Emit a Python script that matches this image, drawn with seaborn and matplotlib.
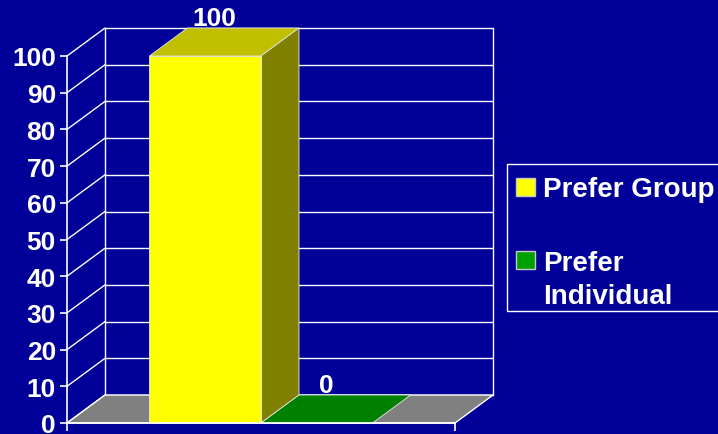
import matplotlib
matplotlib.use("Agg")
import matplotlib.pyplot as plt
import seaborn as sns
import pandas as pd
from matplotlib.patches import Polygon, Rectangle

# ---- data ----
categories = ["Preference"]
series = ["Prefer Group", "Prefer Individual"]
legend_lines = [["Prefer Group"], ["Prefer", "Individual"]]
values = [100, 0]
value_labels = ["100", "0"]
yticks = [0, 10, 20, 30, 40, 50, 60, 70, 80, 90, 100]

# ---- style ----
BG = "#000099"
front_colors = ["#FFFF00", "#00A000"]
top_colors = ["#C0C000", "#008000"]
side_colors = ["#808000", "#005000"]
legend_colors = ["#FFFF00", "#00A000"]
FLOOR = "#808080"
FS = 19
LFS = 20

sns.set_theme(style="white")
plt.rcParams['font.family'] = ['Liberation Sans', 'DejaVu Sans']
plt.rcParams['font.weight'] = 'bold'

W, H = 718, 435
fig = plt.figure(figsize=(W / 100, H / 100), dpi=100, facecolor=BG)
ax = fig.add_axes([67 / W, 11 / H, 388 / W, 367 / H])
ax.set_facecolor("none")

df = pd.DataFrame({"cat": categories * len(series), "series": series, "value": values})
sns.barplot(data=df, x="cat", y="value", hue="series", hue_order=series,
            palette=front_colors, width=0.575, gap=0, saturation=1,
            edgecolor="#E8E8E8", linewidth=0.6, legend=False, ax=ax, zorder=3)

ax.set_xlim(-0.5, 0.5)
ax.set_ylim(0, 100)

# depth offsets (data units)
dx = 38 / 388
dy = 28 / 367 * 100

line_kw = dict(color="white", lw=1.0, clip_on=False, zorder=0.5)
# back wall + left wall grid
for v in yticks:
    ax.plot([-0.5 + dx, 0.5 + dx], [v + dy, v + dy], **line_kw)
    ax.plot([-0.5, -0.5 + dx], [v, v + dy], **line_kw)
ax.plot([-0.5 + dx, -0.5 + dx], [dy, 100 + dy], **line_kw)
ax.plot([0.5 + dx, 0.5 + dx], [dy, 100 + dy], **line_kw)

# floor
floor = Polygon([(-0.5, 0), (0.5, 0), (0.5 + dx, dy), (-0.5 + dx, dy)],
                closed=True, facecolor=FLOOR, edgecolor="white", lw=1.0,
                clip_on=False, zorder=0.8)
ax.add_patch(floor)

# 3D faces for bars, based on seaborn's bar rectangles
bars = [p for p in ax.patches if p is not floor]
bars = sorted(bars, key=lambda p: p.get_x())
for i, b in enumerate(bars):
    x0 = b.get_x()
    x1 = x0 + b.get_width()
    h = b.get_height()
    top = Polygon([(x0, h), (x1, h), (x1 + dx, h + dy), (x0 + dx, h + dy)],
                  closed=True, facecolor=top_colors[i], edgecolor="#E8E8E8",
                  lw=0.6, clip_on=False, zorder=2.5)
    ax.add_patch(top)
    if h > 0:
        side = Polygon([(x1, 0), (x1 + dx, dy), (x1 + dx, h + dy), (x1, h)],
                       closed=True, facecolor=side_colors[i], edgecolor="#E8E8E8",
                       lw=0.6, clip_on=False, zorder=2.5)
        ax.add_patch(side)
    ax.annotate(value_labels[i], xy=(x0 + b.get_width() / 2 + dx / 4, h + dy),
                xytext=(0, 7), textcoords="offset points", ha="center", va="center",
                color="white", fontsize=FS, fontweight="bold", annotation_clip=False,
                zorder=4)

# axes styling
for s in ["top", "right"]:
    ax.spines[s].set_visible(False)
for s in ["left", "bottom"]:
    ax.spines[s].set_color("white")
    ax.spines[s].set_linewidth(1.2)
    ax.spines[s].set_zorder(4)
ax.set_yticks(yticks)
ax.set_yticklabels([str(v) for v in yticks])
ax.set_xticks([-0.5, 0.5])
ax.set_xticklabels(["", ""])
ax.set_xlabel("")
ax.set_ylabel("")
ax.tick_params(axis="y", colors="white", length=5, width=1.2, pad=3, labelsize=FS, left=True)
ax.tick_params(axis="x", colors="white", length=6, width=1.2, bottom=True)
for t in ax.get_yticklabels():
    t.set_fontweight("bold")

# ---- legend (drawn in figure pixel coordinates, y from top) ----
def fx(px):
    return px / W

def fy(py):
    return 1 - py / H

fig.add_artist(Rectangle((fx(507), fy(312)), fx(725) - fx(507), fy(165) - fy(312),
                         transform=fig.transFigure, facecolor=BG, edgecolor="white",
                         lw=1.0, zorder=5))
sq_tops = [179, 252]
baselines = [197, 271]
line_gap = 33
for i, lines in enumerate(legend_lines):
    fig.add_artist(Rectangle((fx(516), fy(sq_tops[i] + 18)), fx(19), 18 / H,
                             transform=fig.transFigure, facecolor=legend_colors[i],
                             edgecolor="#C8C8C8", lw=1.0, zorder=6))
    for j, line in enumerate(lines):
        fig.text(fx(543), fy(baselines[i] + j * line_gap), line, color="white",
                 fontsize=LFS, fontweight="bold", ha="left", va="baseline", zorder=6)

fig.savefig("out.png", dpi=100, facecolor=BG)
